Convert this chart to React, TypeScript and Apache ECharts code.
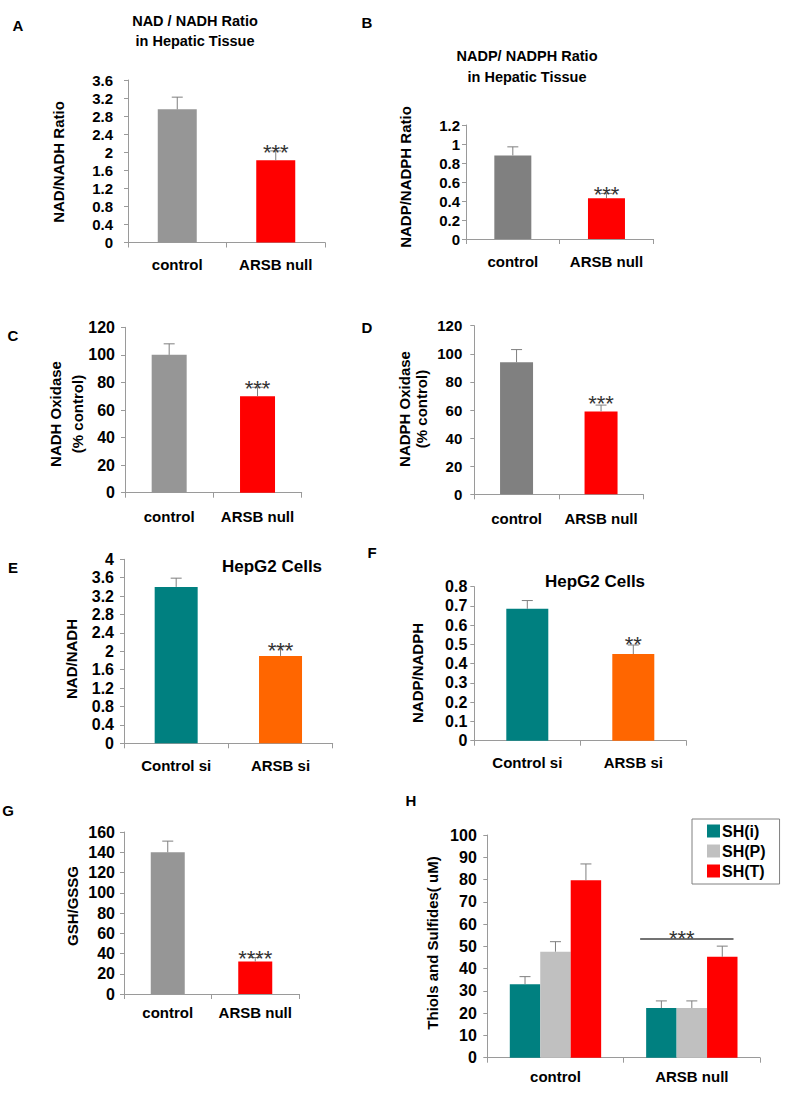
import React, { useEffect, useRef } from "react";
import * as echarts from "echarts";

// ---------- DATA ----------
const tissueCategories = ["control", "ARSB null"];
const cellCategories = ["Control si", "ARSB si"];

const nadRatio = [2.95, 1.82];
const nadRatioErr = [0.27, 0.21];
const nadRatioSig = ["", "***"];

const nadpRatio = [0.88, 0.43];
const nadpRatioErr = [0.09, 0.05];
const nadpRatioSig = ["", "***"];

const nadhOxidase = [100, 70];
const nadhOxidaseErr = [8, 6.5];
const nadhOxidaseSig = ["", "***"];

const nadphOxidase = [94, 59];
const nadphOxidaseErr = [9, 4.5];
const nadphOxidaseSig = ["", "***"];

const hepNad = [3.4, 1.9];
const hepNadErr = [0.19, 0.2];
const hepNadSig = ["", "***"];

const hepNadp = [0.685, 0.45];
const hepNadpErr = [0.043, 0.047];
const hepNadpSig = ["", "**"];

const gshGssg = [140, 32];
const gshGssgErr = [11, 4];
const gshGssgSig = ["", "****"];

const thiolSeriesNames = ["SH(i)", "SH(P)", "SH(T)"];
const shI = [33, 22.3];
const shIErr = [3.4, 3.2];
const shP = [47.6, 22.3];
const shPErr = [4.5, 3.2];
const shT = [79.7, 45.3];
const shTErr = [7.3, 4.8];
const thiolSigLevel = 53.3;
const thiolSigText = "***";

// ---------- STYLE ----------
const FONT = "'Liberation Sans', Arial, sans-serif";
const AXIS = "#9a9a9a";
const ERR = "#7f7f7f";
const GRAY = "#969696";
const DARKGRAY = "#808080";
const RED = "#ff0000";
const TEAL = "#008080";
const ORANGE = "#ff6600";
const LIGHTGRAY = "#c0c0c0";
const SIG_FONT = 22;

type Panel = {
  grid: { left: number; top: number; width: number; height: number };
  categories: string[];
  values: number[];
  errors: number[];
  sig: string[];
  colors: string[];
  max: number;
  interval: number;
  barWidth: number;
  yLabelMargin: number;
  xLabelMargin: number;
  tickFont: number;
  sigDy: number;
};

const panels: Panel[] = [
  { grid: { left: 128, top: 80, width: 197, height: 162.5 }, categories: tissueCategories, values: nadRatio, errors: nadRatioErr, sig: nadRatioSig, colors: [GRAY, RED], max: 3.6, interval: 0.4, barWidth: 39, yLabelMargin: 15, xLabelMargin: 14, tickFont: 15, sigDy: 1.8 },
  { grid: { left: 466, top: 125, width: 187.3, height: 114 }, categories: tissueCategories, values: nadpRatio, errors: nadpRatioErr, sig: nadpRatioSig, colors: [DARKGRAY, RED], max: 1.2, interval: 0.2, barWidth: 37, yLabelMargin: 6, xLabelMargin: 15, tickFont: 15, sigDy: 0.8 },
  { grid: { left: 125, top: 327.3, width: 176.7, height: 165.4 }, categories: tissueCategories, values: nadhOxidase, errors: nadhOxidaseErr, sig: nadhOxidaseSig, colors: [GRAY, RED], max: 120, interval: 20, barWidth: 35, yLabelMargin: 10, xLabelMargin: 16, tickFont: 16, sigDy: 0.8 },
  { grid: { left: 474.3, top: 325.7, width: 169, height: 168.6 }, categories: tissueCategories, values: nadphOxidase, errors: nadphOxidaseErr, sig: nadphOxidaseSig, colors: [DARKGRAY, RED], max: 120, interval: 20, barWidth: 33, yLabelMargin: 12, xLabelMargin: 17, tickFont: 15, sigDy: -1.8 },
  { grid: { left: 124, top: 559.3, width: 208.7, height: 184 }, categories: cellCategories, values: hepNad, errors: hepNadErr, sig: hepNadSig, colors: [TEAL, ORANGE], max: 4, interval: 0.4, barWidth: 43, yLabelMargin: 10, xLabelMargin: 15, tickFont: 16, sigDy: 3.8 },
  { grid: { left: 474.3, top: 586.7, width: 212, height: 154 }, categories: cellCategories, values: hepNadp, errors: hepNadpErr, sig: hepNadpSig, colors: [TEAL, ORANGE], max: 0.8, interval: 0.1, barWidth: 42, yLabelMargin: 7, xLabelMargin: 14.5, tickFont: 16, sigDy: -0.2 },
  { grid: { left: 124, top: 832, width: 175, height: 162 }, categories: tissueCategories, values: gshGssg, errors: gshGssgErr, sig: gshGssgSig, colors: [GRAY, RED], max: 160, interval: 20, barWidth: 34, yLabelMargin: 9, xLabelMargin: 11, tickFont: 16, sigDy: 0.8 },
];

const thiolGrid = { left: 487.3, top: 835, width: 272.7, height: 222.7 };
const thiolValues = [shI, shP, shT];
const thiolErrors = [shIErr, shPErr, shTErr];
const thiolColors = [TEAL, LIGHTGRAY, RED];
const CAT_GAP = 0.33;

function xAxisFor(i: number, data: string[], margin: number) {
  return {
    type: "category",
    gridIndex: i,
    data,
    axisLine: { lineStyle: { color: AXIS, width: 1 } },
    axisTick: { show: true, length: 5, lineStyle: { color: AXIS } },
    axisLabel: { interval: 0, color: "#000", fontWeight: "bold", fontSize: 15, fontFamily: FONT, margin },
  };
}

function yAxisFor(i: number, max: number, interval: number, margin: number, fontSize: number) {
  return {
    type: "value",
    gridIndex: i,
    min: 0,
    max,
    interval,
    splitLine: { show: false },
    axisLine: { show: true, lineStyle: { color: AXIS, width: 1 } },
    axisTick: { show: true, length: 4, lineStyle: { color: AXIS } },
    axisLabel: { color: "#000", fontWeight: "bold", fontSize, fontFamily: FONT, margin },
  };
}

function errorSeries(i: number, values: number[], errors: number[], sig: string[], offsetIndex: number, nSeries: number, sigDy: number) {
  return {
    type: "custom",
    xAxisIndex: i,
    yAxisIndex: i,
    z: 5,
    silent: true,
    data: values.map((v, j) => [j, v, errors[j]]),
    renderItem: (params: any, api: any) => {
      const ci = api.value(0);
      const v = api.value(1);
      const e = api.value(2);
      const base = api.coord([ci, v]);
      const top = api.coord([ci, v + e]);
      let off = 0;
      if (nSeries > 1) {
        const band = api.size([1, 0])[0];
        const bw = (band * (1 - CAT_GAP)) / nSeries;
        off = (offsetIndex - (nSeries - 1) / 2) * bw;
      }
      const x = base[0] + off;
      const children: any[] = [
        { type: "line", shape: { x1: x, y1: base[1], x2: x, y2: top[1] }, style: { stroke: ERR, lineWidth: 1 } },
        { type: "line", shape: { x1: x - 5.5, y1: top[1], x2: x + 5.5, y2: top[1] }, style: { stroke: ERR, lineWidth: 1 } },
      ];
      const s = sig[params.dataIndex];
      if (s) {
        children.push({
          type: "text",
          style: { text: s, x, y: top[1] + sigDy, textAlign: "center", textVerticalAlign: "middle", fontSize: SIG_FONT, fontFamily: FONT, fill: "#333" },
        });
      }
      return { type: "group", children };
    },
  };
}

function buildOption() {
  const grids: any[] = [];
  const xAxes: any[] = [];
  const yAxes: any[] = [];
  const series: any[] = [];

  panels.forEach((p, i) => {
    grids.push({ ...p.grid, containLabel: false });
    xAxes.push(xAxisFor(i, p.categories, p.xLabelMargin));
    yAxes.push(yAxisFor(i, p.max, p.interval, p.yLabelMargin, p.tickFont));
    series.push({
      type: "bar",
      name: "panel" + i,
      xAxisIndex: i,
      yAxisIndex: i,
      barWidth: p.barWidth,
      data: p.values.map((v, j) => ({ value: v, itemStyle: { color: p.colors[j] } })),
    });
    series.push(errorSeries(i, p.values, p.errors, p.sig, 0, 1, p.sigDy));
  });

  const h = panels.length;
  grids.push({ ...thiolGrid, containLabel: false });
  xAxes.push(xAxisFor(h, tissueCategories, 11.5));
  yAxes.push(yAxisFor(h, 100, 10, 10.5, 16));
  thiolSeriesNames.forEach((name, k) => {
    series.push({
      type: "bar",
      name,
      xAxisIndex: h,
      yAxisIndex: h,
      barGap: "0%",
      barCategoryGap: CAT_GAP * 100 + "%",
      itemStyle: { color: thiolColors[k] },
      data: thiolValues[k],
    });
  });
  thiolSeriesNames.forEach((name, k) => {
    series.push(errorSeries(h, thiolValues[k], thiolErrors[k], ["", ""], k, 3, 0));
  });
  series.push({
    type: "custom",
    xAxisIndex: h,
    yAxisIndex: h,
    z: 6,
    silent: true,
    data: [[1, thiolSigLevel]],
    renderItem: (params: any, api: any) => {
      const c = api.coord([api.value(0), api.value(1)]);
      const band = api.size([1, 0])[0];
      const gw = band * (1 - CAT_GAP);
      return {
        type: "group",
        children: [
          { type: "line", shape: { x1: c[0] - gw / 2 - 6, y1: c[1], x2: c[0] + gw / 2 - 4, y2: c[1] }, style: { stroke: "#444", lineWidth: 1.5 } },
          { type: "text", style: { text: thiolSigText, x: c[0] - 10, y: c[1] - 0.2, textAlign: "center", textVerticalAlign: "middle", fontSize: SIG_FONT, fontFamily: FONT, fill: "#333" } },
        ],
      };
    },
  });

  const bold = (text: string, x: number, y: number, size: number, rotate = false) => ({
    type: "text",
    x,
    y,
    rotation: rotate ? Math.PI / 2 : 0,
    style: { text, textAlign: "center", textVerticalAlign: "middle", fontSize: size, fontWeight: "bold", fontFamily: FONT, fill: "#000" },
  });

  const graphics = [
    bold("A", 18, 25, 15),
    bold("NAD / NADH Ratio", 195, 21, 14.5),
    bold("in Hepatic Tissue", 195, 41, 14.5),
    bold("B", 367, 22, 15),
    bold("NADP/ NADPH Ratio", 527, 56, 14.5),
    bold("in Hepatic Tissue", 527, 77, 14.5),
    bold("C", 13, 335, 15),
    bold("D", 367, 327, 15),
    bold("E", 13, 567, 15),
    bold("HepG2 Cells", 272, 566, 17),
    bold("F", 372, 552, 15),
    bold("HepG2 Cells", 595, 581, 17),
    bold("G", 8, 810, 15),
    bold("H", 411, 800, 15),
    bold("NAD/NADH Ratio", 58, 162, 15, true),
    bold("NADP/NADPH Ratio", 405, 177, 15, true),
    {
      type: "text",
      x: 66,
      y: 414,
      rotation: Math.PI / 2,
      style: { text: "NADH Oxidase\n(% control)", textAlign: "center", textVerticalAlign: "middle", fontSize: 15, lineHeight: 22, fontWeight: "bold", fontFamily: FONT, fill: "#000" },
    },
    {
      type: "text",
      x: 413,
      y: 409,
      rotation: Math.PI / 2,
      style: { text: "NADPH Oxidase\n(% control)", textAlign: "center", textVerticalAlign: "middle", fontSize: 15, lineHeight: 17, fontWeight: "bold", fontFamily: FONT, fill: "#000" },
    },
    bold("NAD/NADH", 71, 659, 15, true),
    bold("NADP/NADPH", 417, 673, 15, true),
    bold("GSH/GSSG", 72, 906, 15, true),
    bold("Thiols and Sulfides( uM)", 432, 943, 15, true),
  ];

  return {
    animation: false,
    backgroundColor: "#ffffff",
    textStyle: { fontFamily: FONT },
    grid: grids,
    xAxis: xAxes,
    yAxis: yAxes,
    series,
    legend: {
      data: thiolSeriesNames,
      orient: "vertical",
      left: 692,
      top: 819,
      padding: [4, 14, 5, 15],
      itemWidth: 13,
      itemHeight: 13,
      itemGap: 4,
      icon: "rect",
      borderColor: "#808080",
      borderWidth: 1,
      selectedMode: false,
      textStyle: { fontSize: 16, fontWeight: "bold", color: "#000", fontFamily: FONT, lineHeight: 16, padding: [0, 0, 0, -3] },
    },
    graphic: graphics,
  };
}

export default function App() {
  const ref = useRef<HTMLDivElement>(null);
  useEffect(() => {
    if (!ref.current) return;
    const chart = echarts.init(ref.current, undefined, { renderer: "svg" });
    chart.setOption(buildOption() as any);
    return () => chart.dispose();
  }, []);
  return (
    <div
      ref={ref}
      style={{ position: "fixed", left: 0, top: 0, width: 787, height: 1093, background: "#fff" }}
    />
  );
}
